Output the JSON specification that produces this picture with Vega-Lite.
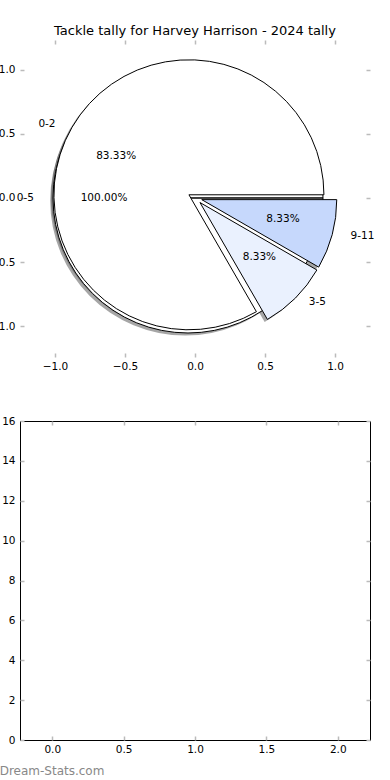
{
  "$schema": "https://vega.github.io/schema/vega-lite/v6.json",
  "autosize": {"type": "none"},
  "padding": {"left": 20, "top": 40, "right": 20, "bottom": 740},
  "background": "white",
  "spacing": 64,
  "bounds": "flush",
  "config": {
    "font": "DejaVu Sans",
    "view": {"stroke": null},
    "axis": {"grid": false, "labelFont": "DejaVu Sans", "labelFontSize": 10.5, "labelColor": "#000000", "tickColor": "#bbbbbb", "tickWidth": 1.5, "tickSize": -4, "labelPadding": 8, "domain": false},
    "axisY": {"labelPadding": 9}
  },
  "datasets": {
    "wedges": [
      {"pie": "A", "label": "0-5", "x": -0.05, "y": 0, "start": 0, "end": 100},
      {"pie": "B", "label": "0-2", "x": -0.0433, "y": 0.025, "start": 0, "end": 83.33},
      {"pie": "B", "label": "3-5", "x": 0.0354, "y": -0.0354, "start": 83.33, "end": 91.67},
      {"pie": "B", "label": "9-11", "x": 0.0483, "y": -0.0129, "start": 91.67, "end": 100}
    ],
    "pcts": [
      {"text": "100.00%", "x": -0.65, "y": 0},
      {"text": "83.33%", "x": -0.563, "y": 0.325},
      {"text": "8.33%", "x": 0.46, "y": -0.46},
      {"text": "8.33%", "x": 0.628, "y": -0.168}
    ],
    "labels": [
      {"text": "0-5", "x": -1.15, "y": 0, "side": "left"},
      {"text": "0-2", "x": -0.996, "y": 0.575, "side": "left"},
      {"text": "3-5", "x": 0.813, "y": -0.813, "side": "right"},
      {"text": "9-11", "x": 1.111, "y": -0.298, "side": "right"}
    ]
  },
  "vconcat": [
    {
      "width": 350,
      "height": 317,
      "title": {"text": "Tackle tally for Harvey Harrison - 2024 tally", "fontSize": 13, "fontWeight": "normal", "color": "#000000", "offset": 1, "font": "DejaVu Sans"},
      "layer": [
        {
          "data": {"name": "wedges"},
          "mark": {"type": "arc", "radius": 135, "xOffset": -2.8, "yOffset": 2.6, "fill": "#4d4d4d", "fillOpacity": 0.5, "strokeWidth": 0},
          "encoding": {
            "x": {"field": "x", "type": "quantitative", "scale": {"domain": [-1.25, 1.25], "nice": false, "zero": false}, "axis": {"orient": "bottom", "values": [-1, -0.5, 0, 0.5, 1], "format": ".1f", "title": null}},
            "y": {"field": "y", "type": "quantitative", "scale": {"domain": [-1.242, 1.234], "nice": false, "zero": false}, "axis": {"orient": "left", "values": [-1, -0.5, 0, 0.5, 1], "format": ".1f", "title": null}},
            "theta": {"field": "start", "type": "quantitative", "stack": null, "scale": {"type": "linear", "domain": [0, 100], "range": [1.5707963, -4.712389], "zero": false, "nice": false}},
            "theta2": {"field": "end"}
          }
        },
        {
          "data": {"name": "wedges"},
          "mark": {"type": "arc", "radius": 135, "stroke": "#000000", "strokeWidth": 1},
          "encoding": {
            "x": {"field": "x", "type": "quantitative", "scale": {"domain": [-1.25, 1.25], "nice": false, "zero": false}, "axis": {"orient": "top", "values": [-1, -0.5, 0, 0.5, 1], "labels": false, "title": null}},
            "y": {"field": "y", "type": "quantitative", "scale": {"domain": [-1.242, 1.234], "nice": false, "zero": false}, "axis": {"orient": "right", "values": [-1, -0.5, 0, 0.5, 1], "labels": false, "title": null}},
            "theta": {"field": "start", "type": "quantitative", "stack": null, "scale": {"type": "linear", "domain": [0, 100], "range": [1.5707963, -4.712389], "zero": false, "nice": false}},
            "theta2": {"field": "end"},
            "fill": {"field": "label", "type": "nominal", "scale": {"domain": ["0-5", "0-2", "3-5", "9-11"], "range": ["#ffffff", "#ffffff", "#eaf1fe", "#c6d8fc"]}, "legend": null}
          }
        },
        {
          "data": {"name": "pcts"},
          "mark": {"type": "text", "align": "center", "baseline": "middle", "fontSize": 10.5, "font": "DejaVu Sans", "color": "#000000"},
          "encoding": {
            "x": {"field": "x", "type": "quantitative", "scale": {"domain": [-1.25, 1.25], "nice": false, "zero": false}, "axis": null},
            "y": {"field": "y", "type": "quantitative", "scale": {"domain": [-1.242, 1.234], "nice": false, "zero": false}, "axis": null},
            "text": {"field": "text"}
          }
        },
        {
          "data": {"name": "labels"},
          "transform": [{"filter": "datum.side == 'left'"}],
          "mark": {"type": "text", "align": "right", "baseline": "middle", "fontSize": 10.5, "font": "DejaVu Sans", "color": "#000000"},
          "encoding": {
            "x": {"field": "x", "type": "quantitative", "scale": {"domain": [-1.25, 1.25], "nice": false, "zero": false}, "axis": null},
            "y": {"field": "y", "type": "quantitative", "scale": {"domain": [-1.242, 1.234], "nice": false, "zero": false}, "axis": null},
            "text": {"field": "text"}
          }
        },
        {
          "data": {"name": "labels"},
          "transform": [{"filter": "datum.side == 'right'"}],
          "mark": {"type": "text", "align": "left", "baseline": "middle", "fontSize": 10.5, "font": "DejaVu Sans", "color": "#000000"},
          "encoding": {
            "x": {"field": "x", "type": "quantitative", "scale": {"domain": [-1.25, 1.25], "nice": false, "zero": false}, "axis": null},
            "y": {"field": "y", "type": "quantitative", "scale": {"domain": [-1.242, 1.234], "nice": false, "zero": false}, "axis": null},
            "text": {"field": "text"}
          }
        }
      ],
      "resolve": {"axis": {"x": "independent", "y": "independent"}}
    },
    {
      "width": 350,
      "height": 319,
      "view": {"stroke": "#000000", "strokeWidth": 1},
      "title": {"text": "Dream-Stats.com", "orient": "bottom", "anchor": "start", "dx": -2, "offset": 11, "fontSize": 12, "fontWeight": "normal", "color": "#888888", "font": "DejaVu Sans"},
      "layer": [
        {
          "data": {"values": []},
          "mark": "point",
          "encoding": {
            "x": {"field": "x", "type": "quantitative", "scale": {"domain": [-0.226, 2.226], "nice": false, "zero": false}, "axis": {"orient": "bottom", "values": [0, 0.5, 1, 1.5, 2], "format": ".1f", "title": null}},
            "y": {"field": "y", "type": "quantitative", "scale": {"domain": [0, 16], "nice": false, "zero": false}, "axis": {"orient": "left", "values": [0, 2, 4, 6, 8, 10, 12, 14, 16], "format": "d", "title": null}}
          }
        },
        {
          "data": {"values": []},
          "mark": "point",
          "encoding": {
            "x": {"field": "x", "type": "quantitative", "scale": {"domain": [-0.226, 2.226], "nice": false, "zero": false}, "axis": {"orient": "top", "values": [0, 0.5, 1, 1.5, 2], "labels": false, "title": null}},
            "y": {"field": "y", "type": "quantitative", "scale": {"domain": [0, 16], "nice": false, "zero": false}, "axis": {"orient": "right", "values": [0, 2, 4, 6, 8, 10, 12, 14, 16], "labels": false, "title": null}}
          }
        }
      ],
      "resolve": {"axis": {"x": "independent", "y": "independent"}}
    }
  ]
}
